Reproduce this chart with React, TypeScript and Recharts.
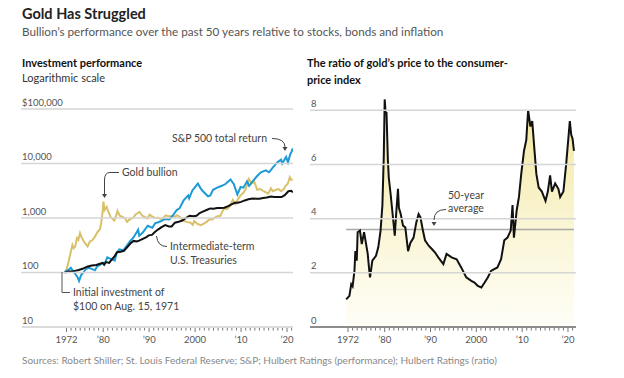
import React from "react";
import { ComposedChart, Line, Area, XAxis, YAxis, ReferenceLine } from "recharts";

const FONT = "Lato, 'Open Sans', sans-serif";

// Investment performance, $100 invested Aug. 15, 1971 (log scale)
const goldBullion = [
  { year: 1971.6, value: 100 }, { year: 1972.0, value: 112 }, { year: 1972.4, value: 150 },
  { year: 1972.8, value: 210 }, { year: 1973.3, value: 320 }, { year: 1973.6, value: 280 },
  { year: 1973.9, value: 300 }, { year: 1974.3, value: 430 }, { year: 1974.6, value: 400 },
  { year: 1974.95, value: 530 }, { year: 1975.3, value: 440 }, { year: 1975.8, value: 370 },
  { year: 1976.2, value: 330 }, { year: 1976.6, value: 300 }, { year: 1977.1, value: 370 },
  { year: 1977.6, value: 390 }, { year: 1978.1, value: 440 }, { year: 1978.8, value: 560 },
  { year: 1979.3, value: 620 }, { year: 1979.6, value: 850 }, { year: 1979.85, value: 1250 },
  { year: 1980.05, value: 2000 }, { year: 1980.3, value: 1400 }, { year: 1980.75, value: 1600 },
  { year: 1981.2, value: 1250 }, { year: 1981.6, value: 1050 }, { year: 1982.4, value: 900 },
  { year: 1982.9, value: 1150 }, { year: 1983.1, value: 1350 }, { year: 1983.6, value: 1100 },
  { year: 1984.2, value: 1050 }, { year: 1984.7, value: 1000 }, { year: 1985.2, value: 850 },
  { year: 1985.8, value: 950 }, { year: 1986.5, value: 1000 }, { year: 1987.0, value: 1150 },
  { year: 1987.9, value: 1300 }, { year: 1988.5, value: 1100 }, { year: 1989.0, value: 1050 },
  { year: 1989.6, value: 980 }, { year: 1990.1, value: 1150 }, { year: 1990.7, value: 1060 },
  { year: 1991.3, value: 1000 }, { year: 1992.0, value: 1010 }, { year: 1992.7, value: 950 },
  { year: 1993.6, value: 1120 }, { year: 1994.2, value: 1080 }, { year: 1995.0, value: 1080 },
  { year: 1995.6, value: 1060 }, { year: 1996.1, value: 1130 }, { year: 1996.8, value: 1020 },
  { year: 1997.6, value: 880 }, { year: 1998.3, value: 840 }, { year: 1998.9, value: 830 },
  { year: 1999.5, value: 750 }, { year: 1999.8, value: 880 }, { year: 2000.4, value: 790 },
  { year: 2001.2, value: 740 }, { year: 2001.8, value: 780 }, { year: 2002.5, value: 850 },
  { year: 2003.1, value: 950 }, { year: 2003.7, value: 940 }, { year: 2004.3, value: 1020 },
  { year: 2004.9, value: 1080 }, { year: 2005.5, value: 1100 }, { year: 2006.0, value: 1350 },
  { year: 2006.4, value: 1550 }, { year: 2006.9, value: 1450 }, { year: 2007.6, value: 1650 },
  { year: 2008.2, value: 2150 }, { year: 2008.8, value: 1800 }, { year: 2009.3, value: 2200 },
  { year: 2009.9, value: 2600 }, { year: 2010.5, value: 2900 }, { year: 2011.0, value: 3400 },
  { year: 2011.7, value: 5200 }, { year: 2012.3, value: 4300 }, { year: 2012.9, value: 4600 },
  { year: 2013.5, value: 3300 }, { year: 2014.2, value: 3400 }, { year: 2014.9, value: 3100 },
  { year: 2015.9, value: 2800 }, { year: 2016.5, value: 3500 }, { year: 2016.9, value: 3100 },
  { year: 2017.6, value: 3300 }, { year: 2018.2, value: 3400 }, { year: 2018.7, value: 3100 },
  { year: 2019.3, value: 3400 }, { year: 2019.7, value: 3900 }, { year: 2020.2, value: 4300 },
  { year: 2020.6, value: 5600 }, { year: 2020.9, value: 5000 }, { year: 2021.25, value: 5100 },
];

const sp500 = [
  { year: 1971.6, value: 100 }, { year: 1972.0, value: 108 }, { year: 1972.5, value: 112 },
  { year: 1972.95, value: 122 }, { year: 1973.5, value: 105 }, { year: 1973.9, value: 95 },
  { year: 1974.4, value: 82 }, { year: 1974.75, value: 70 }, { year: 1975.2, value: 90 },
  { year: 1975.6, value: 98 }, { year: 1976.2, value: 115 }, { year: 1976.9, value: 122 },
  { year: 1977.6, value: 115 }, { year: 1978.2, value: 110 }, { year: 1978.7, value: 130 },
  { year: 1979.3, value: 138 }, { year: 1979.9, value: 150 }, { year: 1980.2, value: 140 },
  { year: 1980.9, value: 190 }, { year: 1981.5, value: 180 }, { year: 1982.5, value: 165 },
  { year: 1982.9, value: 225 }, { year: 1983.5, value: 265 }, { year: 1984.4, value: 255 },
  { year: 1985.0, value: 300 }, { year: 1985.9, value: 380 }, { year: 1986.6, value: 440 },
  { year: 1987.6, value: 610 }, { year: 1987.85, value: 470 }, { year: 1988.6, value: 540 },
  { year: 1989.7, value: 720 }, { year: 1990.7, value: 660 }, { year: 1991.3, value: 800 },
  { year: 1992.4, value: 860 }, { year: 1993.5, value: 960 }, { year: 1994.4, value: 940 },
  { year: 1995.3, value: 1150 }, { year: 1996.0, value: 1400 }, { year: 1996.6, value: 1500 },
  { year: 1997.5, value: 2100 }, { year: 1998.5, value: 2600 }, { year: 1998.7, value: 2300 },
  { year: 1999.4, value: 3200 }, { year: 1999.9, value: 3600 }, { year: 2000.6, value: 4300 },
  { year: 2001.2, value: 3500 }, { year: 2001.7, value: 3100 }, { year: 2002.8, value: 2500 },
  { year: 2003.3, value: 2600 }, { year: 2003.9, value: 3300 }, { year: 2004.8, value: 3600 },
  { year: 2005.8, value: 3900 }, { year: 2006.6, value: 4200 }, { year: 2007.7, value: 5100 },
  { year: 2008.4, value: 4200 }, { year: 2009.2, value: 2700 }, { year: 2009.9, value: 3700 },
  { year: 2010.5, value: 3600 }, { year: 2011.3, value: 4700 }, { year: 2011.75, value: 3900 },
  { year: 2012.6, value: 4800 }, { year: 2013.5, value: 5900 }, { year: 2014.3, value: 6900 },
  { year: 2015.4, value: 7500 }, { year: 2016.1, value: 6900 }, { year: 2016.9, value: 8400 },
  { year: 2017.9, value: 10500 }, { year: 2018.7, value: 11800 }, { year: 2018.95, value: 10000 },
  { year: 2019.8, value: 13200 }, { year: 2020.2, value: 10500 }, { year: 2020.7, value: 14800 },
  { year: 2021.0, value: 16500 }, { year: 2021.25, value: 19000 },
];

const treasuries = [
  { year: 1971.6, value: 100 }, { year: 1972.5, value: 104 }, { year: 1973.5, value: 106 },
  { year: 1974.5, value: 110 }, { year: 1975.5, value: 117 }, { year: 1976.5, value: 128 },
  { year: 1977.5, value: 134 }, { year: 1978.5, value: 137 }, { year: 1979.3, value: 145 },
  { year: 1979.9, value: 150 }, { year: 1980.2, value: 140 }, { year: 1980.6, value: 155 },
  { year: 1981.3, value: 150 }, { year: 1981.8, value: 170 }, { year: 1982.5, value: 200 },
  { year: 1983.0, value: 235 }, { year: 1983.8, value: 240 }, { year: 1984.5, value: 250 },
  { year: 1985.2, value: 290 }, { year: 1985.9, value: 340 }, { year: 1986.6, value: 380 },
  { year: 1987.3, value: 370 }, { year: 1987.8, value: 385 }, { year: 1988.5, value: 410 },
  { year: 1989.3, value: 440 }, { year: 1989.9, value: 480 }, { year: 1990.6, value: 490 },
  { year: 1991.3, value: 560 }, { year: 1992.0, value: 620 }, { year: 1992.7, value: 680 },
  { year: 1993.5, value: 740 }, { year: 1994.3, value: 700 }, { year: 1994.9, value: 700 },
  { year: 1995.6, value: 820 }, { year: 1996.4, value: 850 }, { year: 1997.2, value: 900 },
  { year: 1998.0, value: 1000 }, { year: 1998.8, value: 1100 }, { year: 1999.6, value: 1080 },
  { year: 2000.3, value: 1100 }, { year: 2001.0, value: 1230 }, { year: 2001.8, value: 1320 },
  { year: 2002.5, value: 1400 }, { year: 2003.3, value: 1500 }, { year: 2004.0, value: 1480 },
  { year: 2004.8, value: 1520 }, { year: 2005.6, value: 1530 }, { year: 2006.4, value: 1540 },
  { year: 2007.2, value: 1650 }, { year: 2007.9, value: 1780 }, { year: 2008.7, value: 1900 },
  { year: 2009.3, value: 1900 }, { year: 2010.0, value: 1980 }, { year: 2010.8, value: 2100 },
  { year: 2011.6, value: 2200 }, { year: 2012.5, value: 2280 }, { year: 2013.3, value: 2250 },
  { year: 2014.0, value: 2250 }, { year: 2014.8, value: 2330 }, { year: 2015.6, value: 2380 },
  { year: 2016.5, value: 2480 }, { year: 2017.2, value: 2430 }, { year: 2018.0, value: 2430 },
  { year: 2018.8, value: 2420 }, { year: 2019.5, value: 2620 }, { year: 2020.3, value: 3100 },
  { year: 2020.9, value: 3150 }, { year: 2021.25, value: 2950 },
];

// Ratio of gold's price to the CPI
const goldCpiRatio = [
  { year: 1971.6, ratio: 1.02 }, { year: 1972.3, ratio: 1.15 }, { year: 1972.7, ratio: 1.58 },
  { year: 1973.0, ratio: 1.5 }, { year: 1973.4, ratio: 2.07 }, { year: 1973.6, ratio: 2.8 },
  { year: 1973.9, ratio: 2.45 }, { year: 1974.1, ratio: 3.5 }, { year: 1974.6, ratio: 3.56 },
  { year: 1975.0, ratio: 3.06 }, { year: 1975.5, ratio: 3.5 }, { year: 1976.3, ratio: 2.7 },
  { year: 1976.6, ratio: 2.14 }, { year: 1976.8, ratio: 1.83 }, { year: 1977.3, ratio: 2.45 },
  { year: 1978.1, ratio: 2.63 }, { year: 1978.6, ratio: 2.94 }, { year: 1979.1, ratio: 3.56 },
  { year: 1979.5, ratio: 4.5 }, { year: 1979.8, ratio: 6.3 }, { year: 1980.0, ratio: 8.4 },
  { year: 1980.2, ratio: 7.9 }, { year: 1980.4, ratio: 7.9 }, { year: 1980.7, ratio: 6.15 },
  { year: 1980.9, ratio: 5.5 }, { year: 1981.3, ratio: 4.9 }, { year: 1981.8, ratio: 4.05 },
  { year: 1982.2, ratio: 3.37 }, { year: 1982.5, ratio: 4.17 }, { year: 1982.9, ratio: 5.1 },
  { year: 1983.1, ratio: 4.4 }, { year: 1983.5, ratio: 4.17 }, { year: 1984.0, ratio: 3.74 },
  { year: 1984.5, ratio: 3.68 }, { year: 1985.1, ratio: 2.8 }, { year: 1985.6, ratio: 3.1 },
  { year: 1986.3, ratio: 3.3 }, { year: 1986.9, ratio: 3.86 }, { year: 1987.4, ratio: 4.17 },
  { year: 1987.8, ratio: 4.05 }, { year: 1988.3, ratio: 3.6 }, { year: 1988.8, ratio: 3.2 },
  { year: 1989.6, ratio: 3.0 }, { year: 1990.3, ratio: 2.88 }, { year: 1991.0, ratio: 2.75 },
  { year: 1991.7, ratio: 2.57 }, { year: 1992.8, ratio: 2.32 }, { year: 1993.5, ratio: 2.7 },
  { year: 1994.6, ratio: 2.57 }, { year: 1995.7, ratio: 2.5 }, { year: 1996.7, ratio: 2.2 },
  { year: 1997.8, ratio: 1.83 }, { year: 1998.9, ratio: 1.7 }, { year: 1999.6, ratio: 1.64 },
  { year: 2000.3, ratio: 1.52 }, { year: 2001.1, ratio: 1.46 }, { year: 2001.8, ratio: 1.64 },
  { year: 2002.5, ratio: 1.83 }, { year: 2003.2, ratio: 2.07 }, { year: 2003.9, ratio: 2.14 },
  { year: 2004.6, ratio: 2.2 }, { year: 2005.4, ratio: 2.5 }, { year: 2006.1, ratio: 3.2 },
  { year: 2006.8, ratio: 3.3 }, { year: 2007.5, ratio: 3.56 }, { year: 2007.9, ratio: 4.5 },
  { year: 2008.2, ratio: 3.3 }, { year: 2008.8, ratio: 4.3 }, { year: 2009.3, ratio: 4.8 },
  { year: 2009.8, ratio: 5.65 }, { year: 2010.4, ratio: 6.5 }, { year: 2010.9, ratio: 6.9 },
  { year: 2011.3, ratio: 8.0 }, { year: 2011.8, ratio: 7.4 }, { year: 2012.2, ratio: 7.6 },
  { year: 2012.7, ratio: 6.5 }, { year: 2013.1, ratio: 5.65 }, { year: 2013.6, ratio: 5.15 },
  { year: 2014.3, ratio: 5.0 }, { year: 2015.1, ratio: 4.65 }, { year: 2015.6, ratio: 5.0 },
  { year: 2016.1, ratio: 5.6 }, { year: 2016.5, ratio: 5.0 }, { year: 2017.2, ratio: 5.3 },
  { year: 2017.9, ratio: 5.1 }, { year: 2018.3, ratio: 4.8 }, { year: 2019.0, ratio: 5.0 },
  { year: 2019.6, ratio: 6.0 }, { year: 2020.4, ratio: 7.6 }, { year: 2020.7, ratio: 7.1 },
  { year: 2021.0, ratio: 6.95 }, { year: 2021.3, ratio: 6.5 },
];
const AVG_RATIO = 3.6;

const LEFT_Y_TICKS = [10, 100, 1000, 10000, 100000];
const LEFT_Y_LABELS = ["10", "100", "1,000", "10,000", "$100,000"];
const RIGHT_Y_TICKS = [0, 2, 4, 6, 8];
const X_LABEL_YEARS = [1972, 1980, 1990, 2000, 2010, 2020];
const X_LABELS = ["1972", "\u201980", "\u201990", "2000", "\u201910", "\u201920"];
const YEAR_TICKS: number[] = [];
for (let y = 1972; y <= 2021; y++) YEAR_TICKS.push(y);

const LEFT_X_DOMAIN: [number, number] = [1962.33, 2021.3];
const RIGHT_X_DOMAIN: [number, number] = [1963.7, 2021.75];

const AXIS_Y = 327;
const GRID = "#d5d5d5";

const XTick = (props: any) => {
  const { x, payload } = props;
  const idx = X_LABEL_YEARS.indexOf(payload.value);
  return (
    <g>
      <line x1={x} x2={x} y1={AXIS_Y + 1} y2={AXIS_Y + (idx >= 0 ? 5 : 3.5)} stroke="#777" strokeWidth={1} />
      {idx >= 0 && (
        <text x={x} y={AXIS_Y + 16} textAnchor="middle" fontSize={9.5} fill="#555" fontFamily={FONT}>
          {X_LABELS[idx]}
        </text>
      )}
    </g>
  );
};

// y labels sit just above their gridline; the gridline is drawn here too
const YTick = (props: any) => {
  const { y, payload, labelX, lineX2, labels, ticks } = props;
  const i = ticks.indexOf(payload.value);
  return (
    <g>
      {i > 0 && <line x1={labelX - 1} x2={lineX2} y1={y} y2={y} stroke={GRID} strokeWidth={1.5} />}
      <text x={labelX} y={y - 3.5} fontSize={9.5} fill="#555" fontFamily={FONT}>
        {labels[i]}
      </text>
    </g>
  );
};

const Arrow = ({ x, y }: { x: number; y: number }) => (
  <path d={`M${x - 2.5},${y - 4} L${x + 2.5},${y - 4} L${x},${y} Z`} fill="#444" />
);

export default function App() {
  const txt = { fontFamily: FONT, fill: "#444", fontSize: 10.5 } as const;
  const rightLabels = RIGHT_Y_TICKS.map(String);
  return (
    <div style={{ position: "absolute", left: 0, top: 0, width: 624, height: 378, background: "#fff", overflow: "hidden" }}>
      {/* Left: investment performance */}
      <div style={{ position: "absolute", left: 0, top: 0 }}>
        <ComposedChart width={310} height={378} margin={{ top: 109, right: 17, left: 21, bottom: 31 }}>
          <XAxis
            type="number"
            dataKey="year"
            domain={LEFT_X_DOMAIN}
            allowDataOverflow
            ticks={YEAR_TICKS}
            interval={0}
            tick={(p: any) => <XTick {...p} />}
            tickLine={false}
            axisLine={{ stroke: "#cfcfcf", strokeWidth: 1.5 }}
            height={20}
          />
          <YAxis
            type="number"
            scale="log"
            domain={[10, 100000]}
            allowDataOverflow
            ticks={LEFT_Y_TICKS}
            interval={0}
            width={1}
            axisLine={false}
            tickLine={false}
            tick={(p: any) => <YTick {...p} labelX={22} lineX2={293} labels={LEFT_Y_LABELS} ticks={LEFT_Y_TICKS} />}
          />
          <Line data={goldBullion} dataKey="value" type="linear" stroke="#d9c06a" strokeWidth={2} dot={false} isAnimationActive={false} />
          <Line data={sp500} dataKey="value" type="linear" stroke="#1c9ad6" strokeWidth={2} dot={false} isAnimationActive={false} />
          <Line data={treasuries} dataKey="value" type="linear" stroke="#111" strokeWidth={2} dot={false} isAnimationActive={false} />
        </ComposedChart>
      </div>

      {/* Right: ratio of gold's price to CPI */}
      <div style={{ position: "absolute", left: 300, top: 0 }}>
        <ComposedChart width={324} height={378} data={goldCpiRatio} margin={{ top: 94, right: 48, left: 9, bottom: 31 }}>
          <defs>
            <linearGradient id="ratioFill" x1="0" y1="0" x2="0" y2="1">
              <stop offset="0%" stopColor="#f0e28a" />
              <stop offset="55%" stopColor="#f9f3cc" />
              <stop offset="100%" stopColor="#fffef6" />
            </linearGradient>
          </defs>
          <XAxis
            type="number"
            dataKey="year"
            domain={RIGHT_X_DOMAIN}
            allowDataOverflow
            ticks={YEAR_TICKS}
            interval={0}
            tick={(p: any) => <XTick {...p} />}
            tickLine={false}
            axisLine={{ stroke: "#666", strokeWidth: 1.5 }}
            height={20}
          />
          <YAxis
            type="number"
            domain={[0, 8.6]}
            allowDataOverflow
            ticks={RIGHT_Y_TICKS}
            interval={0}
            width={1}
            axisLine={false}
            tickLine={false}
            tick={(p: any) => <YTick {...p} labelX={11} lineX2={276} labels={rightLabels} ticks={RIGHT_Y_TICKS} />}
          />
          <Area dataKey="ratio" type="linear" fill="url(#ratioFill)" fillOpacity={0.85} stroke="none" baseValue={0} isAnimationActive={false} />
          <ReferenceLine
            segment={[
              { x: goldCpiRatio[0].year, y: AVG_RATIO },
              { x: goldCpiRatio[goldCpiRatio.length - 1].year, y: AVG_RATIO },
            ]}
            stroke="#a9a9a9"
            strokeWidth={1.5}
          />
          <Line dataKey="ratio" type="linear" stroke="#111" strokeWidth={2} dot={false} isAnimationActive={false} />
        </ComposedChart>
      </div>

      {/* Titles and annotations */}
      <svg width={624} height={378} style={{ position: "absolute", left: 0, top: 0, pointerEvents: "none" }}>
        <text x={22} y={19} fontFamily={FONT} fontWeight={700} fontSize={14.5} fill="#222">Gold Has Struggled</text>
        <text x={22} y={36} fontFamily={FONT} fontSize={11.7} fill="#555">
          Bullion’s performance over the past 50 years relative to stocks, bonds and inflation
        </text>
        <text x={22} y={67} fontFamily={FONT} fontWeight={700} fontSize={11} fill="#111">Investment performance</text>
        <text x={22} y={82} fontFamily={FONT} fontSize={11} fill="#333">Logarithmic scale</text>
        <text x={307} y={67} fontFamily={FONT} fontWeight={700} fontSize={11} fill="#111">
          The ratio of gold’s price to the consumer-
        </text>
        <text x={307} y={84} fontFamily={FONT} fontWeight={700} fontSize={11} fill="#111">price index</text>

        {/* S&P 500 */}
        <text x={267} y={142} textAnchor="end" {...txt}>S&amp;P 500 total return</text>
        <path d="M272,138.5 Q285,138.5 285,147" fill="none" stroke="#444" strokeWidth={1} />
        <Arrow x={285} y={151} />

        {/* Gold bullion */}
        <text x={122} y={176} {...txt}>Gold bullion</text>
        <path d="M119,172.5 L110,172.5 Q104.5,172.5 104.5,180 L104.5,194" fill="none" stroke="#444" strokeWidth={1} />
        <Arrow x={104.5} y={198} />

        {/* Treasuries */}
        <path d="M156.5,236 Q157.5,246.5 167,246.5" fill="none" stroke="#444" strokeWidth={1} />
        <text x={170} y={250} {...txt}>Intermediate-term</text>
        <text x={170} y={264} {...txt}>U.S. Treasuries</text>

        {/* Initial investment */}
        <path d="M62,272 L62,292.5 L70,292.5" fill="none" stroke="#555" strokeWidth={1} />
        <text x={73} y={296} {...txt}>Initial investment of</text>
        <text x={73} y={310} {...txt}>$100 on Aug. 15, 1971</text>

        {/* 50-year average */}
        <text x={466} y={199} textAnchor="middle" {...txt}>50-year</text>
        <text x={466} y={212} textAnchor="middle" {...txt}>average</text>
        <path d="M446,209.5 Q434,209.5 434,220" fill="none" stroke="#444" strokeWidth={1} />
        <Arrow x={434} y={226} />

        <text x={22} y={364} fontFamily={FONT} fontSize={10} fill="#888">
          Sources: Robert Shiller; St. Louis Federal Reserve; S&amp;P; Hulbert Ratings (performance); Hulbert Ratings (ratio)
        </text>
      </svg>
    </div>
  );
}
